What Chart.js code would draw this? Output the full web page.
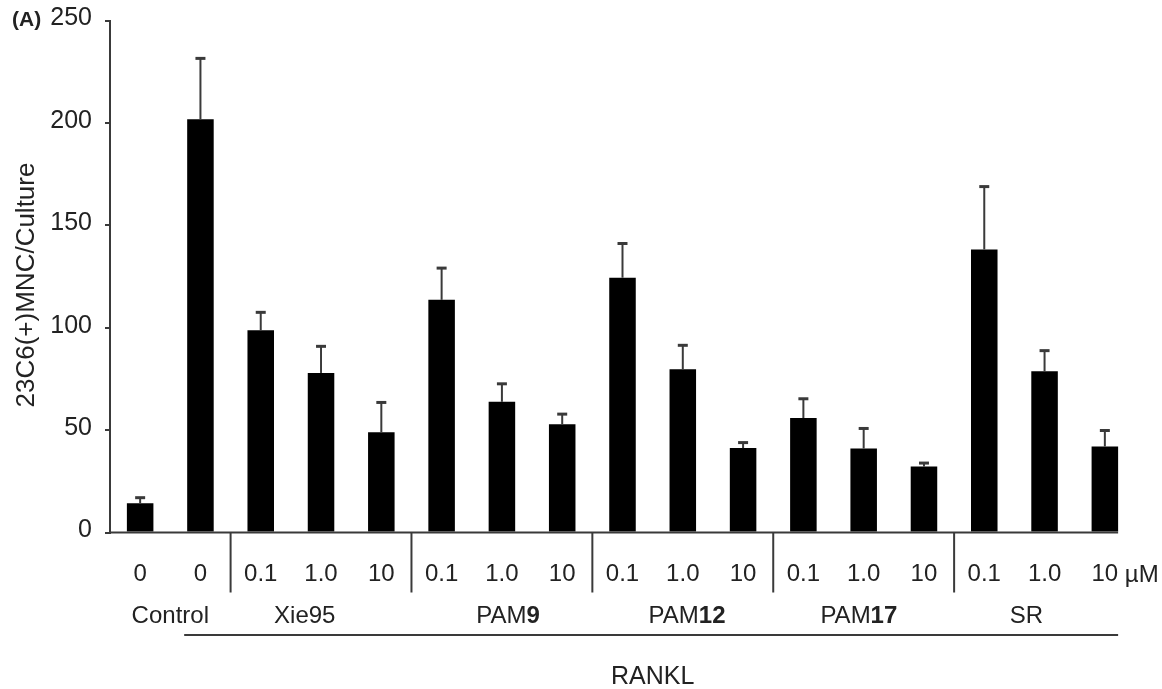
<!DOCTYPE html>
<html>
<head>
<meta charset="utf-8">
<title>23C6(+)MNC/Culture</title>
<script src="https://cdn.jsdelivr.net/npm/chart.js@4/dist/chart.umd.min.js"></script>
<style>
  html, body { margin: 0; padding: 0; background: #ffffff; }
  #wrap { width: 1162px; height: 689px; position: relative; }
</style>
</head>
<body>
<div id="wrap"><canvas id="chart" width="1162" height="689"></canvas></div>
<script>
// Dose labels under each bar (µM), one per bar
const doseLabels = ['0', '0', '0.1', '1.0', '10', '0.1', '1.0', '10', '0.1', '1.0', '10', '0.1', '1.0', '10', '0.1', '1.0', '10'];

// Mean number of 23C6(+) multinucleated cells per culture
const meanCounts = [14.3, 201.8, 98.7, 77.9, 49.0, 113.6, 63.8, 52.9, 124.4, 79.7, 41.2, 55.9, 41.0, 32.2, 138.2, 78.7, 42.0];

// Upper error (SD) for each bar
const errorCounts = [2.7, 29.7, 8.8, 13.0, 14.5, 15.5, 8.8, 4.9, 16.7, 11.7, 2.7, 9.4, 9.8, 1.7, 30.7, 10.1, 7.8];

// Treatment groups: plain part, bold part
const groupNames = [['Control', ''], ['Xie95', ''], ['PAM', '9'], ['PAM', '12'], ['PAM', '17'], ['SR', '']];

// Y-axis ticks
const yTicks = [0, 50, 100, 150, 200, 250];

const FONT = "'Liberation Sans', Arial, sans-serif";
const TEXT = '#222222';
const LINE = '#3a3a3a';

// Horizontal anchor of each group name, in category-index units
const groupAnchors = [0.5, 2.73, 6.1, 9.07, 11.92, 14.7];
// Boundaries drawn after these bar indices
const dividerAfter = [1, 4, 7, 10, 13];

const annotations = {
  id: 'annotations',
  afterDatasetsDraw(chart) {
    const ctx = chart.ctx;
    const y = chart.scales.y;
    const meta = chart.getDatasetMeta(0);
    ctx.save();
    ctx.strokeStyle = LINE;
    meanCounts.forEach((m, i) => {
      const bar = meta.data[i];
      const x = bar.x;
      const yBar = y.getPixelForValue(m);
      const yTop = y.getPixelForValue(m + errorCounts[i]);
      ctx.lineWidth = 2;
      ctx.beginPath();
      ctx.moveTo(x, yBar);
      ctx.lineTo(x, yTop);
      ctx.stroke();
      ctx.lineWidth = 3;
      ctx.beginPath();
      ctx.moveTo(x - 5, yTop);
      ctx.lineTo(x + 5, yTop);
      ctx.stroke();
    });
    ctx.restore();
  },
  afterDraw(chart) {
    const ctx = chart.ctx;
    const x = chart.scales.x;
    const area = chart.chartArea;
    const meta = chart.getDatasetMeta(0);
    const last = meta.data[meta.data.length - 1];
    const px = (v) => x.getPixelForValue(0) + v * (x.getPixelForValue(1) - x.getPixelForValue(0));

    ctx.save();
    // x-axis baseline
    ctx.strokeStyle = LINE;
    ctx.lineWidth = 2;
    ctx.beginPath();
    ctx.moveTo(area.left - 1, area.bottom);
    ctx.lineTo(last.x + last.width / 2, area.bottom);
    ctx.stroke();

    // group dividers
    dividerAfter.forEach((i) => {
      const xm = (x.getPixelForValue(i) + x.getPixelForValue(i + 1)) / 2;
      ctx.beginPath();
      ctx.moveTo(xm, area.bottom);
      ctx.lineTo(xm, area.bottom + 60);
      ctx.stroke();
    });

    // unit after the last dose label
    ctx.fillStyle = TEXT;
    ctx.textBaseline = 'alphabetic';
    ctx.textAlign = 'left';
    ctx.font = '24px ' + FONT;
    ctx.fillText('\u00b5M', last.x + 20, 582);

    // group names (plain + bold numerals)
    groupNames.forEach((g, i) => {
      ctx.font = '24px ' + FONT;
      const w1 = ctx.measureText(g[0]).width;
      ctx.font = 'bold 24px ' + FONT;
      const w2 = g[1] ? ctx.measureText(g[1]).width : 0;
      const cx = px(groupAnchors[i]);
      let sx = cx - (w1 + w2) / 2;
      ctx.font = '24px ' + FONT;
      ctx.fillText(g[0], sx, 623);
      if (g[1]) {
        ctx.font = 'bold 24px ' + FONT;
        ctx.fillText(g[1], sx + w1, 623);
      }
    });

    // RANKL bracket line and label
    const first = meta.data[1];
    ctx.lineWidth = 2;
    ctx.beginPath();
    ctx.moveTo(first.x - first.width / 2 - 3, 635);
    ctx.lineTo(last.x + last.width / 2, 635);
    ctx.stroke();
    ctx.font = '25px ' + FONT;
    ctx.textAlign = 'center';
    ctx.fillText('RANKL', px(8.5), 684);

    // y-axis title
    ctx.save();
    ctx.translate(34, 285);
    ctx.rotate(-Math.PI / 2);
    ctx.font = '26px ' + FONT;
    ctx.textAlign = 'center';
    ctx.textBaseline = 'alphabetic';
    ctx.fillText('23C6(+)MNC/Culture', 0, 0);
    ctx.restore();

    // panel letter
    ctx.font = 'bold 21px ' + FONT;
    ctx.textAlign = 'left';
    ctx.fillText('(A)', 12, 26);
    ctx.restore();
  }
};

new Chart(document.getElementById('chart'), {
  type: 'bar',
  data: {
    labels: doseLabels,
    datasets: [{
      data: meanCounts,
      backgroundColor: '#000000',
      borderWidth: 0,
      barPercentage: 0.44,
      categoryPercentage: 1.0
    }]
  },
  options: {
    responsive: false,
    animation: false,
    devicePixelRatio: 1,
    layout: { padding: { top: 20.5, right: 27, left: 0, bottom: 0 } },
    plugins: { legend: { display: false }, tooltip: { enabled: false } },
    scales: {
      x: {
        type: 'category',
        offset: true,
        grid: { display: false },
        border: { display: false },
        ticks: {
          color: TEXT,
          font: { family: FONT, size: 24 },
          padding: 19,
          maxRotation: 0,
          autoSkip: false
        },
        afterFit(scale) {
          scale.height = 156.5;
          scale.paddingLeft = 0;
          scale.paddingRight = 0;
        }
      },
      y: {
        min: 0,
        max: 250,
        afterBuildTicks(scale) { scale.ticks = yTicks.map(v => ({ value: v })); },
        grid: { drawOnChartArea: false, drawTicks: true, tickLength: 5, color: LINE, lineWidth: 2 },
        border: { display: true, color: LINE, width: 2 },
        ticks: {
          color: TEXT,
          font: { family: FONT, size: 25 },
          padding: 13,
          labelOffset: -2
        },
        afterFit(scale) {
          scale.width = 110;
          scale.paddingTop = 0;
          scale.paddingBottom = 0;
        }
      }
    }
  },
  plugins: [annotations]
});
</script>
</body>
</html>
